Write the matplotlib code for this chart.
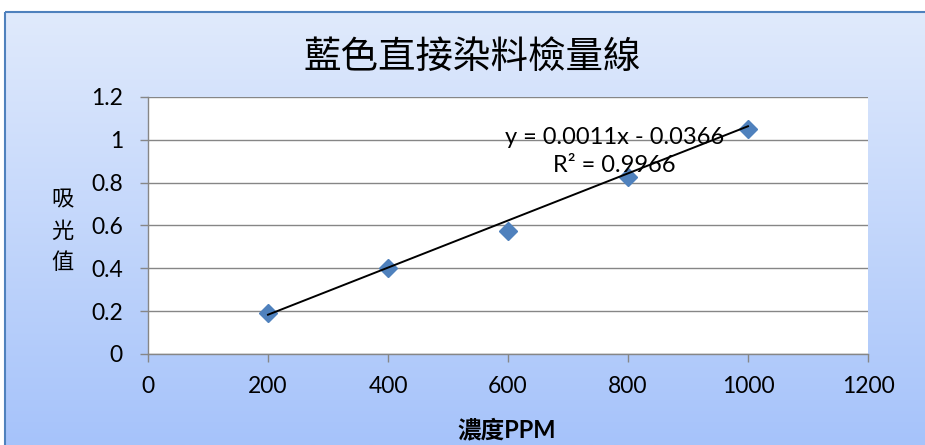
import numpy as np
import matplotlib
matplotlib.use("Agg")
import matplotlib.pyplot as plt
from matplotlib.patches import Rectangle

plt.rcParams['font.family'] = ['Lato', 'Noto Sans CJK TC', 'DejaVu Sans']

# data
conc = [200, 400, 600, 800, 1000]
absorb = [0.19, 0.40, 0.575, 0.825, 1.05]
slope = 0.0011
intercept = -0.0366
r2 = 0.9966

title = "藍色直接染料檢量線"
xlabel = "濃度PPM"
ylabel = "吸\n光\n值"

W, H = 925, 445
fig = plt.figure(figsize=(W / 100, H / 100), dpi=100)

# background: gradient chart area with blue frame
bg = fig.add_axes([0, 0, 1, 1], zorder=-5)
bg.set_xlim(0, W)
bg.set_ylim(H, 0)
bg.axis("off")
top_c = np.array([0xe0, 0xea, 0xfc]) / 255
bot_c = np.array([0xa6, 0xc3, 0xfa]) / 255
t = np.linspace(0, 1, 256)[:, None]
grad = (top_c * (1 - t) + bot_c * t)[:, None, :]
bg.imshow(grad, extent=[5, W + 5, H, 12], aspect="auto", interpolation="bilinear")
bg.add_patch(Rectangle((5, 12), W + 10, H + 10, fill=False, edgecolor="#4f81bd", linewidth=1.5))

ax = fig.add_axes([148 / W, 1 - 354 / H, 720 / W, 257 / H])
ax.set_facecolor("white")
ax.set_xlim(0, 1200)
ax.set_ylim(0, 1.2)
ax.set_xticks(range(0, 1201, 200))
ax.set_yticks([0, 0.2, 0.4, 0.6, 0.8, 1.0, 1.2])
ax.set_yticklabels(["0", "0.2", "0.4", "0.6", "0.8", "1", "1.2"])
ax.grid(axis="y", color="#868686", linewidth=1)
ax.set_axisbelow(True)
for s in ["top", "right"]:
    ax.spines[s].set_visible(False)
for s in ["left", "bottom"]:
    ax.spines[s].set_color("#868686")
    ax.spines[s].set_linewidth(1)
ax.tick_params(axis="y", length=6, width=1, color="#868686", pad=12, labelsize=16.5)
ax.tick_params(axis="x", length=6, width=1, color="#868686", pad=10, labelsize=16.5)

ax.plot(conc, absorb, linestyle="none", marker="D", markersize=9.5,
        color="#4f81bd", markeredgecolor="#4f81bd", zorder=3)
xs = np.array([conc[0], conc[-1]])
ax.plot(xs, slope * xs + intercept, color="black", linewidth=1.4, zorder=4)

# trendline label sits in pixel-ish spot, written in axes data units
ax.text(777, 1.013, "y = 0.0011x - 0.0366", ha="center", va="center", fontsize=17, zorder=5)
ax.text(778, 0.88, "R² = 0.9966", ha="center", va="center", fontsize=17, zorder=5)

fig.text(472 / W, 1 - 57 / H, title, ha="center", va="center", fontsize=27,
         family=["Noto Sans CJK TC"])
fig.text(62 / W, 1 - 231 / H, ylabel, ha="center", va="center", fontsize=16,
         family=["Noto Sans CJK TC"], fontweight="medium", linespacing=1.45)
fig.text(507 / W, 1 - 430 / H, xlabel, ha="center", va="center", fontsize=17,
         fontweight="bold", family=["Lato", "Noto Sans CJK TC"])

fig.savefig("out.png", dpi=100)
